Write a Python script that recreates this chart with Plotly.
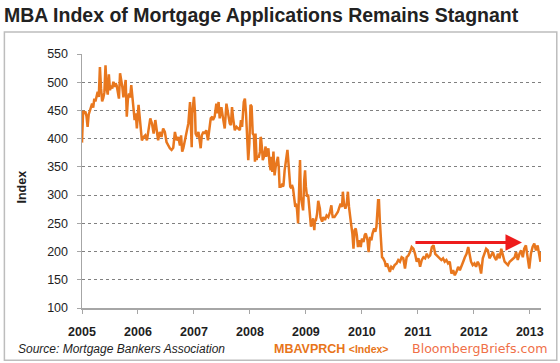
import plotly.graph_objects as go

# ---------------- data ----------------
title_text = "MBA Index of Mortgage Applications Remains Stagnant"
y_label = "Index"
x_ticks = [2005, 2006, 2007, 2008, 2009, 2010, 2011, 2012, 2013]
y_ticks = [100, 150, 200, 250, 300, 350, 400, 450, 500, 550]
source_text = "Source: Mortgage Bankers Association"
ticker = "MBAVPRCH"
ticker_unit = "&lt;Index&gt;"
brand = "BloombergBriefs.com"

# decimal year of each observation
t = [
    2005.00, 2005.02, 2005.04, 2005.06, 2005.08, 2005.10, 2005.12, 2005.14, 2005.16, 2005.18,
    2005.20, 2005.22, 2005.24, 2005.26, 2005.28, 2005.30, 2005.32, 2005.34, 2005.36, 2005.38,
    2005.40, 2005.42, 2005.44, 2005.46, 2005.48, 2005.50, 2005.52, 2005.54, 2005.56, 2005.58,
    2005.60, 2005.62, 2005.64, 2005.66, 2005.68, 2005.70, 2005.72, 2005.74, 2005.76, 2005.78,
    2005.80, 2005.82, 2005.84, 2005.86, 2005.88, 2005.90, 2005.92, 2005.94, 2005.96, 2005.98,
    2006.01, 2006.03, 2006.05, 2006.07, 2006.10, 2006.13, 2006.16, 2006.19, 2006.22, 2006.25,
    2006.28, 2006.31, 2006.33, 2006.36, 2006.39, 2006.42, 2006.45, 2006.48, 2006.51, 2006.54,
    2006.57, 2006.60, 2006.63, 2006.66, 2006.69, 2006.72, 2006.75, 2006.77, 2006.79, 2006.81,
    2006.84, 2006.87, 2006.90, 2006.93, 2006.94, 2006.96, 2006.97, 2007.00, 2007.02, 2007.03,
    2007.06, 2007.08, 2007.11, 2007.12, 2007.14, 2007.17, 2007.19, 2007.22, 2007.25, 2007.28,
    2007.30, 2007.33, 2007.34, 2007.37, 2007.40, 2007.42, 2007.44, 2007.46, 2007.49, 2007.52,
    2007.55, 2007.58, 2007.61, 2007.64, 2007.66, 2007.68, 2007.70, 2007.73, 2007.76, 2007.79,
    2007.82, 2007.84, 2007.86, 2007.89, 2007.91, 2007.93, 2007.95, 2007.97, 2007.99, 2008.01,
    2008.03, 2008.05, 2008.07, 2008.09, 2008.10, 2008.12, 2008.13, 2008.16, 2008.18, 2008.19,
    2008.20, 2008.22, 2008.23, 2008.25, 2008.28, 2008.29, 2008.31, 2008.33, 2008.35, 2008.37,
    2008.38, 2008.40, 2008.42, 2008.44, 2008.46, 2008.48, 2008.50, 2008.515, 2008.53, 2008.55,
    2008.57, 2008.59, 2008.60, 2008.62, 2008.64, 2008.67, 2008.68, 2008.70, 2008.72, 2008.74,
    2008.75, 2008.77, 2008.79, 2008.81, 2008.82, 2008.84, 2008.86, 2008.88, 2008.895, 2008.91,
    2008.93, 2008.95, 2008.97, 2008.985, 2009.00, 2009.02, 2009.04, 2009.06, 2009.07, 2009.09,
    2009.11, 2009.13, 2009.15, 2009.16, 2009.18, 2009.20, 2009.22, 2009.25, 2009.26, 2009.29,
    2009.31, 2009.34, 2009.37, 2009.40, 2009.43, 2009.455, 2009.47, 2009.48, 2009.51, 2009.54,
    2009.57, 2009.60, 2009.62, 2009.645, 2009.66, 2009.68, 2009.705, 2009.73, 2009.75, 2009.77,
    2009.79, 2009.81, 2009.83, 2009.85, 2009.87, 2009.89, 2009.91, 2009.93, 2009.95, 2009.98,
    2010.00, 2010.03, 2010.05, 2010.07, 2010.10, 2010.12, 2010.145, 2010.17, 2010.19, 2010.22,
    2010.24, 2010.26, 2010.29, 2010.305, 2010.32, 2010.34, 2010.36, 2010.38, 2010.41, 2010.43,
    2010.45, 2010.48, 2010.50, 2010.525, 2010.555, 2010.585, 2010.62, 2010.65, 2010.68, 2010.71,
    2010.74, 2010.77, 2010.80, 2010.83, 2010.86, 2010.89, 2010.92, 2010.95, 2010.98, 2011.01,
    2011.04, 2011.07, 2011.10, 2011.13, 2011.16, 2011.19, 2011.22, 2011.25, 2011.28, 2011.31,
    2011.34, 2011.36, 2011.39, 2011.42, 2011.45, 2011.48, 2011.51, 2011.54, 2011.57, 2011.60,
    2011.63, 2011.66, 2011.69, 2011.72, 2011.75, 2011.78, 2011.81, 2011.84, 2011.87, 2011.90,
    2011.92, 2011.95, 2011.98, 2012.01, 2012.04, 2012.07, 2012.10, 2012.13, 2012.16, 2012.19,
    2012.22, 2012.25, 2012.28, 2012.31, 2012.34, 2012.37, 2012.40, 2012.43, 2012.46, 2012.49,
    2012.52, 2012.55, 2012.58, 2012.61, 2012.64, 2012.67, 2012.70, 2012.73, 2012.755, 2012.785,
    2012.815, 2012.845, 2012.875, 2012.90, 2012.93, 2012.96, 2012.99, 2013.02, 2013.05, 2013.08,
    2013.11, 2013.14, 2013.17, 2013.19, 2013.20,
]

index_values = [
    393, 449, 446, 448, 440, 421, 443, 450, 457, 462,
    455, 471, 466, 478, 483, 474, 527, 489, 466, 472,
    482, 530, 489, 478, 514, 486, 494, 489, 501, 492,
    498, 494, 480, 471, 516, 505, 492, 473, 490, 504,
    439, 470, 480, 473, 495, 470, 456, 433, 445, 418,
    460, 440, 427, 397, 403, 406, 397, 418, 436, 427,
    409, 433, 415, 397, 412, 403, 418, 412, 394, 387,
    383, 380, 384, 412, 397, 403, 388, 406, 377, 383,
    400, 412, 427, 465, 421, 385, 445, 474, 445, 409,
    403, 412, 391, 383, 406, 412, 409, 415, 397, 418,
    436, 439, 433, 439, 462, 445, 465, 436, 456, 436,
    418, 462, 445, 427, 424, 456, 436, 415, 421, 418,
    415, 433, 421, 465, 471, 445, 412, 362, 392, 460,
    457, 409, 406, 359, 409, 362, 368, 368, 377, 403,
    400, 377, 362, 368, 386, 368, 377, 383, 356, 344,
    368, 341, 377, 335, 350, 362, 368, 350, 315, 315,
    318, 315, 318, 344, 356, 380, 368, 344, 315, 312,
    318, 312, 294, 279, 285, 276, 250, 297, 362, 297,
    285, 273, 326, 344, 315, 297, 301, 273, 261, 244,
    250, 259, 238, 253, 256, 267, 290, 276, 261, 253,
    261, 256, 264, 261, 270, 282, 267, 261, 261, 267,
    270, 279, 285, 279, 306, 285, 276, 285, 306, 279,
    256, 247, 232, 205, 238, 241, 229, 208, 220, 208,
    223, 217, 229, 232, 220, 199, 226, 220, 232, 241,
    235, 244, 291, 291, 256, 226, 190, 188, 182, 173,
    179, 170, 164, 173, 170, 176, 179, 185, 182, 190,
    188, 170, 190, 193, 199, 208, 205, 196, 182, 188,
    173, 185, 190, 188, 196, 190, 193, 208, 211, 196,
    193, 190, 188, 185, 188, 182, 185, 179, 182, 161,
    167, 158, 164, 173, 167, 173, 182, 190, 196, 208,
    196, 182, 176, 179, 173, 182, 176, 161, 188, 196,
    205, 202, 188, 193, 199, 190, 185, 196, 188, 205,
    193, 182, 179, 176, 182, 185, 188, 190, 199, 185,
    196, 202, 190, 205, 211, 188, 170, 196, 208, 214,
    202, 211, 190, 182, 199,
]

# red "flat" arrow: start and end (year, index value)
arrow_start = (2010.93, 216)
arrow_end = (2012.86, 216)

# ---------------- figure ----------------
line_orange = "#E8771E"
axis_gray = "#A6A6A6"
text_dark = "#1E1E1E"

L, R, T, B = 81.7, 18.8, 54.0, 55.3
W, H = 560, 363
pw, ph = W - L - R, H - T - B


def px_x(px):
    return (px - L) / pw


def px_y(py):
    return (H - B - py) / ph


fig = go.Figure()
fig.add_trace(go.Scatter(
    x=t, y=index_values, mode="lines",
    line=dict(color=line_orange, width=2.5),
    hoverinfo="skip", showlegend=False,
))

fig.add_annotation(
    x=arrow_end[0], y=arrow_end[1], ax=arrow_start[0], ay=arrow_start[1],
    xref="x", yref="y", axref="x", ayref="y",
    text="", showarrow=True, arrowhead=2, arrowsize=1.1, arrowwidth=3,
    arrowcolor="#EE1C1C", standoff=0, startstandoff=0,
)

fig.update_layout(
    width=W, height=H, autosize=False,
    margin=dict(l=L, r=R, t=T, b=B),
    paper_bgcolor="white", plot_bgcolor="white",
    font=dict(family="Liberation Sans, Arial, sans-serif", color=text_dark),
    title=dict(
        text="<b>" + title_text + "</b>",
        xref="container", yref="container",
        x=4 / W, xanchor="left",
        y=1 - 15 / H, yanchor="middle",
        font=dict(size=19.5, color="#222222", family="Liberation Sans, Arial, sans-serif"),
    ),
    xaxis=dict(
        range=[2005, 2013.2], tickvals=x_ticks, ticktext=[str(v) for v in x_ticks],
        showgrid=False, zeroline=False,
        showline=True, linecolor=axis_gray, linewidth=1.5,
        ticks="outside", ticklen=4, tickcolor=axis_gray, tickwidth=1,
        tickfont=dict(size=12.5, color=text_dark, weight="bold"),
        ticklabelstandoff=7,
        fixedrange=True,
    ),
    yaxis=dict(
        range=[100, 550], tickvals=y_ticks, ticktext=[str(v) for v in y_ticks],
        showgrid=True, gridcolor="#808080", gridwidth=1, griddash="dot",
        zeroline=False,
        showline=True, linecolor=axis_gray, linewidth=1.5,
        ticks="outside", ticklen=4, tickcolor=axis_gray, tickwidth=1,
        tickfont=dict(size=12.5, color=text_dark),
        ticklabelstandoff=6,
        fixedrange=True,
    ),
)

# outer frame
fig.add_shape(
    type="rect", xref="paper", yref="paper",
    x0=px_x(4), x1=px_x(557), y0=px_y(360), y1=px_y(32),
    line=dict(color="#BDBDBD", width=1.5), fillcolor="rgba(0,0,0,0)", layer="below",
)

# y-axis title
fig.add_annotation(
    x=px_x(22), y=px_y(187), xref="paper", yref="paper",
    text="<b>" + y_label + "</b>", textangle=-90, showarrow=False,
    font=dict(size=12.5, color=text_dark),
    xanchor="center", yanchor="middle",
)

# footer texts
fig.add_annotation(
    x=px_x(16), y=px_y(348.5), xref="paper", yref="paper",
    text="<i>" + source_text + "</i>", showarrow=False,
    font=dict(size=12, color=text_dark),
    xanchor="left", yanchor="middle",
)
fig.add_annotation(
    x=px_x(272), y=px_y(348.5), xref="paper", yref="paper",
    text="<b>" + ticker + "</b> <b><span style='font-size:10.5px'>" + ticker_unit + "</span></b>",
    showarrow=False,
    font=dict(size=12.5, color="#E8751A"),
    xanchor="left", yanchor="middle",
)
fig.add_annotation(
    x=px_x(549), y=px_y(348.5), xref="paper", yref="paper",
    text=brand, showarrow=False,
    font=dict(size=12.6, color="#F07048", family="DejaVu Sans, Verdana, sans-serif"),
    xanchor="right", yanchor="middle",
)

fig.write_html(
    "out.html",
    config={"displayModeBar": False, "staticPlot": True},
    post_script="document.body.style.margin='0';",
)
